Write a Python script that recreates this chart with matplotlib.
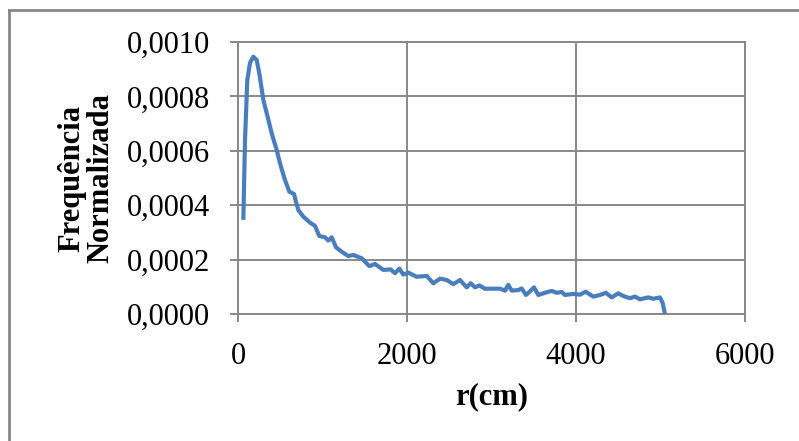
import matplotlib.pyplot as plt
from matplotlib.lines import Line2D
from matplotlib.ticker import FuncFormatter

# r (cm) and normalised frequency
r_cm = [63, 83, 110, 142, 181, 221, 252, 300, 340, 399, 458, 497, 556, 607,
        663, 686, 714, 773, 852, 911, 962, 1030, 1069, 1109, 1160, 1227,
        1306, 1365, 1464, 1554, 1621, 1720, 1807, 1858, 1909, 1956, 2016,
        2114, 2233, 2311, 2391, 2470, 2548, 2627, 2706, 2754, 2805, 2856,
        2923, 3101, 3160, 3199, 3239, 3318, 3357, 3408, 3464, 3503, 3554,
        3633, 3712, 3771, 3831, 3870, 3968, 4047, 4114, 4205, 4284, 4355,
        4422, 4501, 4560, 4639, 4698, 4757, 4856, 4915, 4994, 5026, 5053]
freq = [0.000346, 0.00064, 0.00086, 0.000923, 0.000946, 0.000934, 0.000885,
        0.000787, 0.000738, 0.000664, 0.000603, 0.000554, 0.000493, 0.00045,
        0.000441, 0.000413, 0.000382, 0.000358, 0.000336, 0.000324, 0.000287,
        0.000282, 0.00027, 0.000282, 0.000245, 0.000229, 0.000213, 0.000217,
        0.000205, 0.000176, 0.000184, 0.000162, 0.000164, 0.00015, 0.000167,
        0.000145, 0.000152, 0.000137, 0.00014, 0.000113, 0.00013, 0.000125,
        0.00011, 0.000125, 0.000098, 0.000113, 0.000098, 0.000105, 0.000093,
        0.000093, 0.000086, 0.000107, 0.000086, 0.000088, 0.000094, 0.00007,
        0.000086, 0.000098, 0.00007, 0.000078, 0.000085, 0.000078, 0.000081,
        0.00007, 0.000074, 0.000071, 0.000082, 0.000064, 0.00007, 0.000078,
        0.000061, 0.000076, 0.000066, 0.000058, 0.000064, 0.000054, 0.000061,
        0.000056, 0.000061, 0.00004, 0.0]

x_ticks = [0, 2000, 4000, 6000]
y_ticks = [0.0, 0.0002, 0.0004, 0.0006, 0.0008, 0.0010]

plt.rcParams["font.family"] = ["Liberation Serif", "DejaVu Serif"]
grid_col = "#888888"

fig = plt.figure(figsize=(7.99, 4.41), dpi=100)
ax = fig.add_axes([238 / 799, 1 - 314 / 441, 507 / 799, 272 / 441])

ax.plot(r_cm, freq, color="#4A7EBB", lw=3.0, solid_joinstyle="round",
        solid_capstyle="butt", zorder=3)

ax.set_xlim(0, 6000)
ax.set_ylim(0, 0.0010)
ax.set_xticks(x_ticks)
ax.set_yticks(y_ticks)
ax.yaxis.set_major_formatter(FuncFormatter(lambda v, p: f"{v:.4f}".replace(".", ",")))
ax.grid(True, color=grid_col, lw=1.4)
ax.set_axisbelow(True)
for s in ax.spines.values():
    s.set_color(grid_col)
    s.set_linewidth(1.4)
ax.tick_params(direction="out", length=6, width=1.4, color=grid_col,
               labelsize=22, pad=14)

ax.set_xlabel("r(cm)", fontsize=22, fontweight="bold", labelpad=8)
ax.set_ylabel("Frequência\nNormalizada", fontsize=22, fontweight="bold",
              linespacing=1.0, labelpad=8)

# outer chart frame (top and left edges visible)
fig.add_artist(Line2D([9 / 799, 1], [1 - 10 / 441, 1 - 10 / 441],
                      transform=fig.transFigure, color=grid_col, lw=2))
fig.add_artist(Line2D([9 / 799, 9 / 799], [0, 1 - 10 / 441],
                      transform=fig.transFigure, color=grid_col, lw=2))

fig.savefig("out.png", dpi=100)
